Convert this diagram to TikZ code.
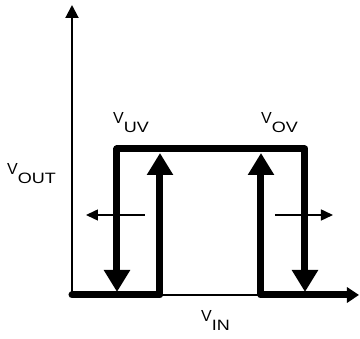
\documentclass[tikz,border=0pt]{standalone}
\usepackage{fontspec}
\setmainfont{Liberation Sans}
\usepackage{graphicx}
\usetikzlibrary{arrows.meta}
\newcommand{\vsub}[1]{V\raisebox{-9pt}{\fontsize{15}{15}\selectfont\scalebox{1.2}[1]{#1}}}
\tikzset{bigtip/.tip={Triangle[length=22pt,width=25pt]},
axtip/.tip={Triangle[length=13pt,width=13pt]},
smalltip/.tip={Triangle[length=12pt,width=11pt]}}
\begin{document}
\begin{tikzpicture}[x=1pt,y=1pt,
axis/.style={line width=2pt},
heavy/.style={line width=7pt,line join=round,line cap=round},
shiftarrow/.style={line width=1.5pt,-smalltip},
lbl/.style={anchor=base west,inner sep=0pt,font=\fontsize{16}{16}\selectfont}]
\useasboundingbox (0,0) rectangle (360,339);
% axes
\coordinate (o) at (72,44);
\coordinate (ytop) at (72,334);
\coordinate (xend) at (359,44);
% rising edges
\coordinate (uvb) at (160,44);
\coordinate (uvt) at (160,186);
\coordinate (ovb) at (261,44);
\coordinate (ovt) at (261,186);
% falling edges
\coordinate (tl) at (117,190);
\coordinate (bl) at (117,47);
\coordinate (tr) at (305,190);
\coordinate (br) at (305,47);
% hysteresis shift
\coordinate (ls) at (145,124);
\coordinate (le) at (86,124);
\coordinate (rs) at (275,124);
\coordinate (re) at (333,124);
\draw[axis,-axtip] (o)--(ytop);
\draw[axis] (o)--(ovb);
\draw[heavy,-bigtip] (o)--(uvb)--(uvt);
\draw[heavy,bigtip-{Triangle[length=12pt,width=15pt]}] (ovt)--(ovb)--(xend);
\draw[heavy,bigtip-bigtip] (bl)--(tl)--(tr)--(br);
\foreach \x/\y in {ls/le,rs/re}{\draw[shiftarrow] (\x)--(\y);}
\node[lbl] (vuv) at (113,215) {\vsub{UV}};
\node[lbl] (vov) at (261,215) {\vsub{OV}};
\node[lbl] (vout) at (7,164) {\vsub{OUT}};
\node[lbl] (vin) at (201,17) {\vsub{IN}};
\end{tikzpicture}
\end{document}
